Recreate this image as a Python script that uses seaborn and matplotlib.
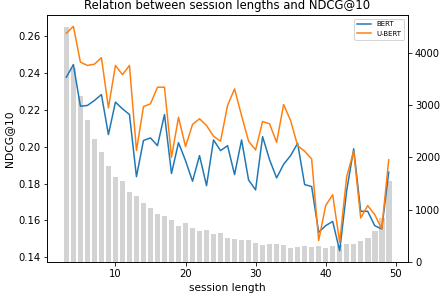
import numpy as np
import pandas as pd
import matplotlib
matplotlib.use('Agg')
import matplotlib.pyplot as plt
import seaborn as sns

# DATA
session_length = list(range(3, 50))

num_sessions = [
    4498, 3721, 3181, 2717, 2355, 2113, 1845, 1622, 1540, 1336,
    1254, 1133, 1025, 910, 878, 809, 695, 744, 643, 586,
    605, 529, 548, 452, 433, 427, 414, 363, 325, 338,
    338, 325, 267, 286, 300, 286, 300, 275, 313, 325,
    351, 351, 401, 466, 592, 834, 1540,
]

ndcg_bert = [
    0.2377, 0.2446, 0.2220, 0.2224, 0.2251, 0.2283, 0.2066, 0.2242, 0.2206, 0.2175,
    0.1838, 0.2034, 0.2048, 0.2006, 0.2175, 0.1855, 0.2022, 0.1925, 0.1813, 0.1952,
    0.1789, 0.2037, 0.1979, 0.2006, 0.1849, 0.2037, 0.1820, 0.1766, 0.2055, 0.1929,
    0.1831, 0.1905, 0.1952, 0.2019, 0.1795, 0.1784, 0.1536, 0.1572, 0.1595, 0.1436,
    0.1762, 0.1989, 0.1650, 0.1650, 0.1572, 0.1554, 0.1862,
]

ndcg_ubert = [
    0.2616, 0.2653, 0.2459, 0.2441, 0.2448, 0.2483, 0.2211, 0.2441, 0.2391, 0.2441,
    0.1979, 0.2218, 0.2233, 0.2323, 0.2323, 0.1943, 0.2160, 0.2001, 0.2121, 0.2152,
    0.2115, 0.2057, 0.2030, 0.2224, 0.2314, 0.2169, 0.2030, 0.1983, 0.2137, 0.2124,
    0.2024, 0.2229, 0.2142, 0.2006, 0.1976, 0.1934, 0.1491, 0.1681, 0.1740, 0.1482,
    0.1838, 0.1976, 0.1614, 0.1681, 0.1632, 0.1554, 0.1929,
]

models = ['BERT', 'U-BERT']

# long format for seaborn
lines_df = pd.DataFrame({
    'session length': session_length * 2,
    'NDCG@10': ndcg_bert + ndcg_ubert,
    'model': [models[0]] * len(session_length) + [models[1]] * len(session_length),
})

bars_df = pd.DataFrame({
    'session length': session_length,
    'Number of Sessions': num_sessions,
})

fig, ax = plt.subplots(figsize=(441 / 72, 297 / 72), dpi=72)
fig.subplots_adjust(left=0.107, right=0.925, bottom=0.118, top=0.949)

ax2 = ax.twinx()

sns.barplot(
    data=bars_df,
    x='session length',
    y='Number of Sessions',
    color='lightgrey',
    native_scale=True,
    ax=ax2
)

sns.lineplot(
    data=lines_df,
    x='session length',
    y='NDCG@10',
    hue='model',
    palette=['tab:blue', 'tab:orange'],
    linewidth=1.5,
    ax=ax
)

# lines in front of the bars
ax.set_zorder(ax2.get_zorder() + 1)
ax.patch.set_visible(False)

ax.set_title('Relation between session lengths and NDCG@10', fontsize=11.6)
ax.set_xlabel('session length', fontsize=10.5)
ax.set_ylabel('NDCG@10', fontsize=10.8)
ax2.set_ylabel('Number of Sessions', fontsize=10.8, labelpad=3)

ax.set_xticks([10, 20, 30, 40, 50])
ax.tick_params(labelsize=10)
ax2.tick_params(labelsize=10)

ax.legend(title=None, loc='upper right', fontsize=7)
ax2.legend(handles=[], loc='upper right')

fig.savefig('out.png', dpi=72)
